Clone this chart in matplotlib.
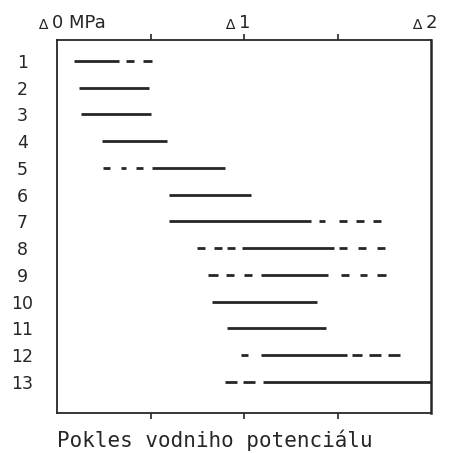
import matplotlib
matplotlib.use('Agg')
import matplotlib.pyplot as plt
import matplotlib.transforms as mtransforms

# rows (species 1..13), solid part of each range in MPa
rows = list(range(1, 14))
solid_lo = [0.09, 0.12, 0.13, 0.24, 0.51, 0.60, 0.60, 0.99, 1.09, 0.83, 0.91, 1.09, 1.10]
solid_hi = [0.33, 0.49, 0.50, 0.59, 0.90, 1.04, 1.36, 1.48, 1.45, 1.39, 1.44, 1.55, 2.00]

# dashed parts, one entry per dash
dash_row = [1, 1,
            5, 5, 5,
            7, 7, 7, 7,
            8, 8, 8, 8, 8, 8,
            9, 9, 9, 9, 9, 9,
            12, 12, 12, 12,
            13, 13]
dash_lo = [0.37, 0.46,
           0.245, 0.34, 0.425,
           1.40, 1.51, 1.60, 1.69,
           0.75, 0.84, 0.91, 1.51, 1.61, 1.71,
           0.81, 0.905, 1.00, 1.52, 1.62, 1.71,
           0.985, 1.58, 1.67, 1.77,
           0.90, 0.995]
dash_hi = [0.41, 0.51,
           0.285, 0.37, 0.46,
           1.435, 1.55, 1.64, 1.73,
           0.79, 0.88, 0.95, 1.55, 1.65, 1.755,
           0.86, 0.945, 1.045, 1.56, 1.66, 1.76,
           1.02, 1.63, 1.73, 1.835,
           0.965, 1.06]

top_vals = [0, 1, 2]
top_labels = ['0 MPa', '1', '2']
xlabel = 'Pokles vodniho potenciálu'

ink = '#262626'

fig = plt.figure(figsize=(4.55, 4.53), dpi=100)
ax = fig.add_axes([57/455, 1 - 413/453, 374/455, 373/453])

ax.hlines(rows, solid_lo, solid_hi, colors=ink, lw=2.0, capstyle='butt')
ax.hlines(dash_row, dash_lo, dash_hi, colors=ink, lw=2.0, capstyle='butt')

ax.set_xlim(0, 2)
ax.set_ylim(14.16, 0.215)

for s in ax.spines.values():
    s.set_color(ink)
    s.set_linewidth(1.3)
ax.spines['right'].set_linewidth(1.8)

ax.set_xticks([0.5, 1, 1.5])
ax.tick_params(axis='x', which='both', top=True, bottom=True, direction='out',
               length=4, width=1.2, color=ink, labelbottom=False, labeltop=False)
ax.set_yticks(rows, labels=[str(r) for r in rows])
ax.tick_params(axis='y', length=0, pad=25, labelsize=12.5, labelcolor=ink)
plt.setp(ax.get_yticklabels(), ha='center')

# top scale labels with small triangles
trans = mtransforms.blended_transform_factory(ax.transData, ax.transAxes)
for v, lab in zip(top_vals, top_labels):
    ax.annotate(lab, xy=(v, 1), xycoords=trans, xytext=(-3.6, 12.5),
                textcoords='offset points', ha='left', va='center',
                fontsize=13, color=ink, annotation_clip=False)
    ax.annotate('\u2206', xy=(v, 1), xycoords=trans, xytext=(-7, 10.5),
                textcoords='offset points', ha='right', va='center',
                fontsize=10, color=ink, annotation_clip=False)

fig.text(57/455, 1 - 440/453, xlabel, ha='left', va='center',
         fontsize=15, family='DejaVu Sans Mono', color=ink)

fig.savefig('out.png', dpi=100)
